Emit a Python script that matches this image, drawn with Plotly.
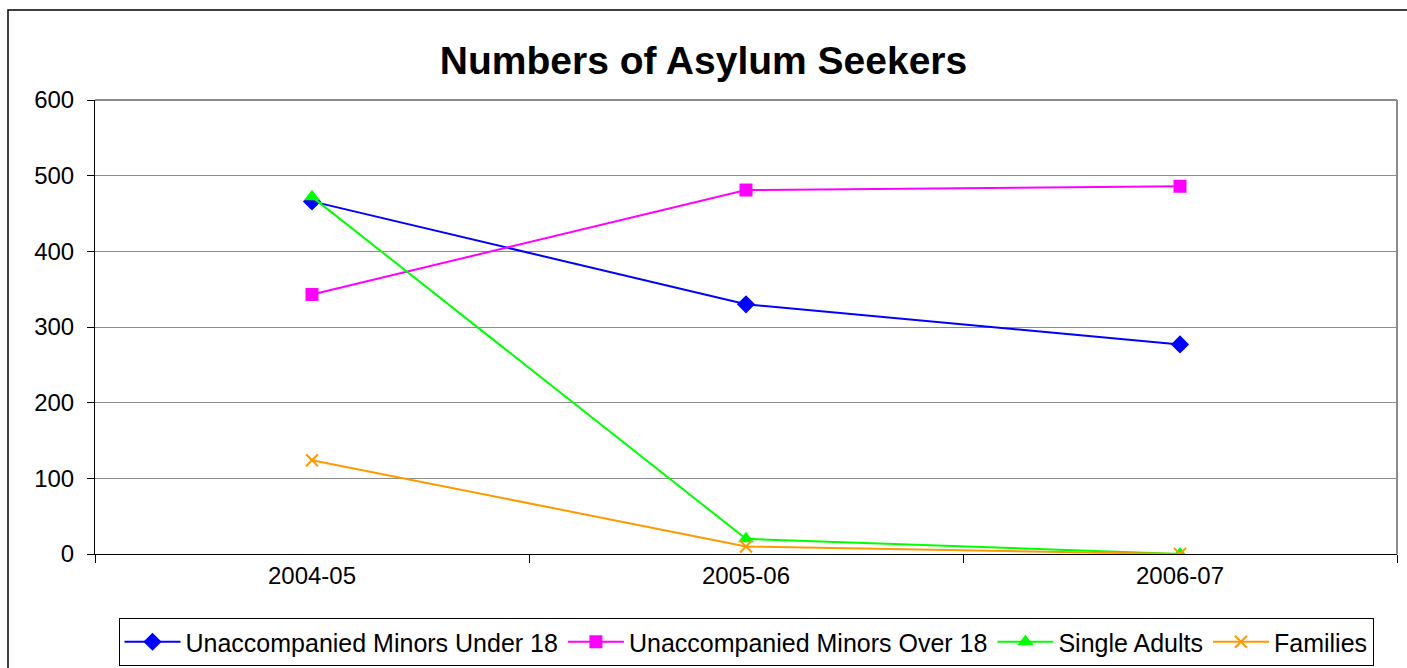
import plotly.graph_objects as go

years = ["2004-05", "2005-06", "2006-07"]
minors_under_18 = [466, 330, 277]
minors_over_18 = [343, 481, 486]
single_adults = [472, 20, 0]
families = [124, 10, 0]
y_ticks = [0, 100, 200, 300, 400, 500, 600]

series = [
    ("Unaccompanied Minors Under 18", minors_under_18, "#0000FF", "diamond", 14),
    ("Unaccompanied Minors Over 18", minors_over_18, "#FF00FF", "square", 13),
    ("Single Adults", single_adults, "#00FF00", "triangle-up", 14),
    ("Families", families, "#FF9900", "x-thin", 12),
]

W, H = 1407, 668
T, B = 100, 0
PH = H - T - B            # paper height in px
plot_bottom_px = 554
dom0 = (H - B - plot_bottom_px) / PH


def py(pix):
    return (H - B - pix) / PH


fig = go.Figure()
for name, vals, color, sym, size in series:
    marker = dict(symbol=sym, size=size, color=color)
    if sym == "x-thin":
        marker["line"] = dict(color=color, width=2)
    fig.add_trace(go.Scatter(
        x=years, y=vals, name=name, mode="lines+markers",
        line=dict(color=color, width=2), marker=marker,
    ))

fig.update_layout(
    width=W, height=H,
    margin=dict(l=95, r=10, t=T, b=B, autoexpand=False),
    paper_bgcolor="white", plot_bgcolor="white",
    font=dict(family="Arial, Liberation Sans, sans-serif", color="black", size=24),
    title=dict(text="<b>Numbers of Asylum Seekers</b>", x=0.5, xanchor="center",
               y=1 - 60 / H, yanchor="middle", font=dict(size=39)),
    showlegend=True,
    legend=dict(orientation="h", x=0.5, xanchor="center", y=py(618), yanchor="top",
                bordercolor="black", borderwidth=1, font=dict(size=25),
                itemwidth=56),
    xaxis=dict(type="category", range=[-0.5, 2.5], showline=True, linecolor="black",
               linewidth=1, ticks="outside", tickson="boundaries", ticklen=8,
               tickcolor="black", showgrid=False, tickfont=dict(size=24)),
    yaxis=dict(range=[0, 600], tickvals=y_ticks, showline=True, linecolor="black",
               linewidth=1, ticks="outside", ticklen=7, tickcolor="black",
               showgrid=True, gridcolor="#8c8c8c", gridwidth=1, zeroline=False,
               tickfont=dict(size=24), ticklabelstandoff=8,
               domain=[dom0, 1]),
)

# plot-area grey top/right border
fig.add_shape(type="line", xref="paper", yref="paper", x0=0, x1=1, y0=1, y1=1,
              line=dict(color="#8c8c8c", width=2))
fig.add_shape(type="line", xref="paper", yref="paper", x0=1, x1=1, y0=dom0, y1=1,
              line=dict(color="#8c8c8c", width=2))
# outer chart frame
fig.add_shape(type="rect", xref="paper", yref="paper",
              x0=(8 - 95) / 1302, x1=1.05, y0=-0.1, y1=py(10),
              line=dict(color="black", width=1.5), layer="below")

fig.write_html("out.html")
